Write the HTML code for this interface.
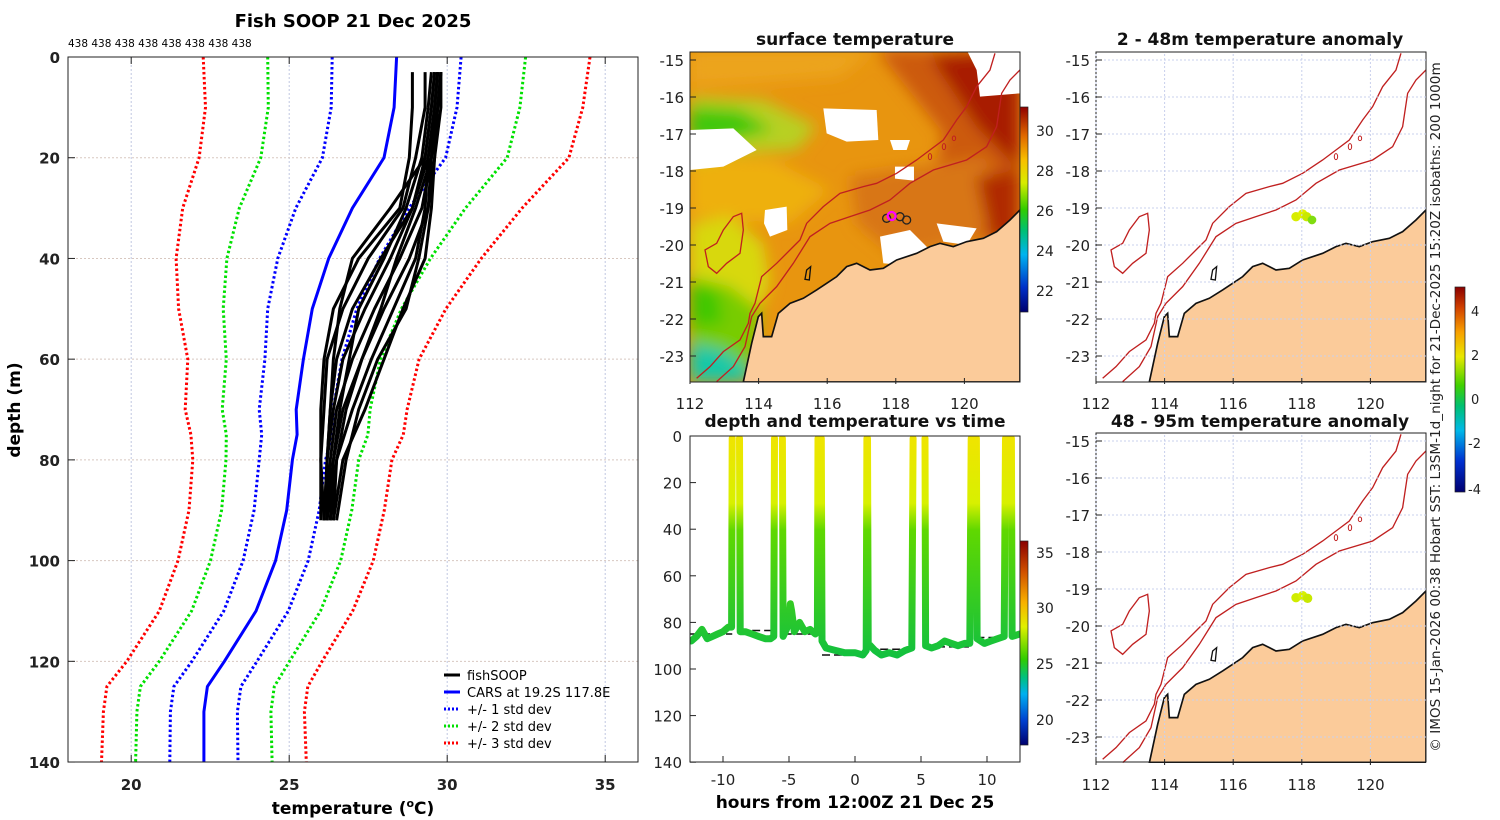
<!DOCTYPE html>
<html><head><meta charset="utf-8"><style>
html,body{margin:0;padding:0;background:#fff;}
svg{display:block;font-family:"DejaVu Sans","Liberation Sans",sans-serif;}
.tk{font-size:15px;font-weight:bold;fill:#222;}
.tkm{font-size:15px;fill:#222;}
.ttl{font-size:17px;font-weight:bold;fill:#111;}
</style></head><body>
<svg id="fig" width="1500" height="820" viewBox="0 0 1500 820" xmlns="http://www.w3.org/2000/svg">
<defs>
<filter id="blur" x="-20%" y="-20%" width="140%" height="140%"><feGaussianBlur stdDeviation="22"/></filter>
<clipPath id="mapclip"><rect x="0" y="6" width="990" height="990"/></clipPath>
<clipPath id="leftclip"><rect x="68" y="57" width="570" height="705"/></clipPath>
<clipPath id="timeclip"><rect x="690" y="436" width="330" height="326"/></clipPath>
<linearGradient id="sstbar" x1="0" y1="1" x2="0" y2="0">
<stop offset="0" stop-color="#00006e"/><stop offset="0.12" stop-color="#0030c8"/><stop offset="0.28" stop-color="#00b4f0"/><stop offset="0.4" stop-color="#00c070"/><stop offset="0.5" stop-color="#30cc00"/><stop offset="0.63" stop-color="#d8ec00"/><stop offset="0.74" stop-color="#f8c000"/><stop offset="0.86" stop-color="#e06800"/><stop offset="1" stop-color="#900000"/></linearGradient>
<linearGradient id="timebar" x1="0" y1="1" x2="0" y2="0">
<stop offset="0" stop-color="#00006e"/><stop offset="0.12" stop-color="#0040d0"/><stop offset="0.25" stop-color="#00b0f0"/><stop offset="0.33" stop-color="#00c080"/><stop offset="0.42" stop-color="#30cc00"/><stop offset="0.58" stop-color="#e0f000"/><stop offset="0.7" stop-color="#f8b000"/><stop offset="0.85" stop-color="#d05000"/><stop offset="1" stop-color="#8a0000"/></linearGradient>
<linearGradient id="anbar" x1="0" y1="1" x2="0" y2="0">
<stop offset="0" stop-color="#000070"/><stop offset="0.15" stop-color="#0030d0"/><stop offset="0.3" stop-color="#00b8e8"/><stop offset="0.42" stop-color="#00c070"/><stop offset="0.52" stop-color="#40d000"/><stop offset="0.66" stop-color="#e8e800"/><stop offset="0.78" stop-color="#f8a000"/><stop offset="0.9" stop-color="#d04000"/><stop offset="1" stop-color="#8a0000"/></linearGradient>
<linearGradient id="trackgrad" gradientUnits="userSpaceOnUse" x1="0" y1="436" x2="0" y2="660">
<stop offset="0" stop-color="#f0e400"/><stop offset="0.3" stop-color="#d8f000"/><stop offset="0.42" stop-color="#60d800"/><stop offset="1" stop-color="#10c040"/></linearGradient>
<g id="mapbase">
<path d="M20,985 L60,950 L100,905 L150,870 L175,820 L180,790 L195,760 L215,680 L260,640 L310,590 L330,570 L350,520 L400,470 L450,430 L520,410 L560,400 L620,370 L680,330 L720,300 L760,270 L800,210 L830,170 L860,110 L900,60 L915,10" fill="none" stroke="#c02020" stroke-width="4"/>
<path d="M80,995 L130,950 L165,890 L185,800 L210,760 L260,710 L310,640 L360,560 L420,520 L480,500 L540,480 L600,450 L660,400 L730,360 L830,330 L890,290 L920,230 L935,130 L960,90 L990,60" fill="none" stroke="#c02020" stroke-width="4"/>
<path d="M45,600 L80,580 L100,540 L130,500 L155,490 L160,540 L150,610 L110,640 L80,670 L55,650 Z" fill="none" stroke="#c02020" stroke-width="4"/>
<ellipse cx="720" cy="320" rx="5" ry="9" fill="none" stroke="#c02020" stroke-width="3"/>
<ellipse cx="762" cy="290" rx="5" ry="9" fill="none" stroke="#c02020" stroke-width="3"/>
<ellipse cx="792" cy="265" rx="5" ry="7" fill="none" stroke="#c02020" stroke-width="3"/>
<path d="M160,996 L185,880 L205,800 L215,790 L220,860 L245,860 L265,790 L300,760 L340,745 L380,720 L410,700 L440,680 L470,650 L500,640 L540,660 L580,655 L620,630 L680,610 L720,590 L750,580 L790,590 L830,575 L880,565 L920,545 L960,510 L990,480 L990,996 Z" fill="#fbcb9a" stroke="#111" stroke-width="5"/>
<path d="M350,660 L362,650 L358,690 L345,688 Z" fill="none" stroke="#111" stroke-width="4"/>
</g>
</defs>

<!-- ============ LEFT PANEL ============ -->
<g>
<text x="353" y="27" text-anchor="middle" style="font-size:18px;font-weight:bold">Fish SOOP 21 Dec 2025</text>
<text x="68" y="47" style="font-size:10.5px">438 438 438 438 438 438 438 438</text>
<g id="leftgrid"></g>
<g id="leftmarks" clip-path="url(#leftclip)"></g>
<rect x="68" y="57" width="570" height="705" fill="none" stroke="#222" stroke-width="1"/>
<g id="leftticks"></g>
<text x="20" y="410" transform="rotate(-90 20 410)" text-anchor="middle" style="font-size:17px;font-weight:bold">depth (m)</text>
<text x="353" y="814" text-anchor="middle" style="font-size:17px;font-weight:bold">temperature (<tspan dy="-7" style="font-size:11px">o</tspan><tspan dy="7">C)</tspan></text>
<g style="font-size:13px">
<g><line x1="444" y1="675" x2="460" y2="675" stroke="#000" stroke-width="3"/><text x="467" y="680">fishSOOP</text></g>
<g><line x1="444" y1="692" x2="460" y2="692" stroke="#0000ff" stroke-width="3"/><text x="467" y="697">CARS at 19.2S 117.8E</text></g>
<g><line x1="444" y1="709" x2="460" y2="709" stroke="#0000ff" stroke-width="3" stroke-dasharray="2,2"/><text x="467" y="714">+/- 1 std dev</text></g>
<g><line x1="444" y1="726" x2="460" y2="726" stroke="#00e000" stroke-width="3" stroke-dasharray="2,2"/><text x="467" y="731">+/- 2 std dev</text></g>
<g><line x1="444" y1="743" x2="460" y2="743" stroke="#ff0000" stroke-width="3" stroke-dasharray="2,2"/><text x="467" y="748">+/- 3 std dev</text></g>
</g>
</g>

<!-- ============ SST MAP ============ -->
<g>
<text x="855" y="45" text-anchor="middle" class="ttl">surface temperature</text>
<g transform="translate(690,50) scale(0.3333)" clip-path="url(#mapclip)">
<rect x="0" y="0" width="990" height="996" fill="#e8950f"/>
<g filter="url(#blur)">
<path d="M0,0 L550,0 L450,80 L200,100 L0,110 Z" fill="#eca41a"/>
<path d="M0,320 L250,330 L420,420 L300,520 L0,500 Z" fill="#eeb010"/>
<path d="M0,140 L220,150 L380,230 L320,300 L120,310 L0,340 Z" fill="#b8d020"/>
<path d="M0,170 L150,180 L250,240 L120,270 L0,280 Z" fill="#40c810"/>
<path d="M0,520 L120,500 L220,580 L240,700 L200,800 L0,800 Z" fill="#d8d808"/>
<path d="M0,680 L120,710 L210,780 L180,996 L0,996 Z" fill="#78cc00"/>
<path d="M0,700 L80,720 L100,820 L0,830 Z" fill="#40c800"/>
<path d="M0,880 L100,900 L180,960 L180,996 L0,996 Z" fill="#18c8a8"/>
<path d="M560,0 L990,0 L990,580 L850,570 L720,430 L760,250 Z" fill="#cc5a08"/>
<path d="M720,20 L990,0 L990,360 L860,230 Z" fill="#a81a00"/>
<path d="M480,380 L880,320 L990,470 L850,570 L620,620 L500,520 Z" fill="#d87612"/>
<path d="M860,380 L990,360 L990,560 L900,570 Z" fill="#b02a00"/>
</g>
<g fill="#ffffff">
<path d="M400,175 L560,180 L565,270 L470,275 L410,250 Z"/>
<path d="M0,240 L130,235 L200,300 L100,350 L0,360 Z"/>
<path d="M225,480 L290,470 L292,540 L240,560 L222,520 Z"/>
<path d="M570,560 L660,540 L720,600 L640,645 L580,640 Z"/>
<path d="M615,350 L672,350 L672,392 L615,386 Z"/>
<path d="M830,0 L990,0 L990,130 L870,140 L860,60 Z"/>
<path d="M740,520 L860,535 L830,585 L760,575 Z"/>
<path d="M600,270 L660,270 L650,300 L610,300 Z"/>
</g>
<use href="#mapbase"/>
<circle cx="590" cy="505" r="12" fill="none" stroke="#222" stroke-width="4"/>
<circle cx="630" cy="500" r="12" fill="none" stroke="#222" stroke-width="4"/>
<circle cx="650" cy="510" r="12" fill="none" stroke="#222" stroke-width="4"/>
<circle cx="605" cy="498" r="12" fill="none" stroke="#ff00ff" stroke-width="7"/>
</g>
<rect x="690" y="52" width="330" height="330" fill="none" stroke="#222"/>
<rect x="1020" y="107" width="8" height="205" fill="url(#sstbar)" stroke="#222" stroke-width="0.7"/>
<g class="tkm" style="font-size:14px">
<text x="1036" y="136">30</text><text x="1036" y="176">28</text><text x="1036" y="216">26</text><text x="1036" y="256">24</text><text x="1036" y="296">22</text>
</g>
</g>

<!-- ============ RIGHT MAPS ============ -->
<g>
<text x="1260" y="45" text-anchor="middle" class="ttl">2 - 48m temperature anomaly</text>
<g transform="translate(1096,50) scale(0.3333)" clip-path="url(#mapclip)">
<use href="#mapbase"/>
<g><circle cx="600" cy="500" r="14" fill="#d8ec00"/><circle cx="620" cy="492" r="14" fill="#e0f000"/><circle cx="632" cy="500" r="14" fill="#c8e800"/><circle cx="648" cy="510" r="13" fill="#80dc10"/></g>
</g>
<rect x="1096" y="52" width="330" height="330" fill="none" stroke="#222"/>
</g>
<g>
<text x="1260" y="427" text-anchor="middle" class="ttl">48 - 95m temperature anomaly</text>
<g transform="translate(1096,431) scale(0.3333)" clip-path="url(#mapclip)">
<use href="#mapbase"/>
<g><circle cx="600" cy="500" r="14" fill="#d0ec00"/><circle cx="620" cy="494" r="14" fill="#d8f000"/><circle cx="635" cy="502" r="14" fill="#c8e800"/></g>
</g>
<rect x="1096" y="433" width="330" height="329" fill="none" stroke="#222"/>
</g>
<rect x="1455" y="287" width="10" height="205" fill="url(#anbar)" stroke="#222" stroke-width="0.7"/>
<g style="font-size:13px" fill="#222">
<text x="1471" y="316">4</text><text x="1471" y="360">2</text><text x="1471" y="404">0</text><text x="1468" y="448">-2</text><text x="1468" y="494">-4</text>
</g>
<text x="1440" y="407" transform="rotate(-90 1440 407)" text-anchor="middle" style="font-size:13.6px" fill="#222">© IMOS 15-Jan-2026 00:38 Hobart SST: L3SM-1d_night for 21-Dec-2025 15:20Z isobaths: 200  1000m</text>

<!-- ============ TIME PANEL ============ -->
<g>
<text x="855" y="427" text-anchor="middle" class="ttl">depth and temperature vs time</text>
<g id="timemarks" clip-path="url(#timeclip)"></g>
<rect x="690" y="436" width="330" height="326" fill="none" stroke="#222"/>
<g id="timeticks"></g>
<text x="855" y="808" text-anchor="middle" style="font-size:17px;font-weight:bold">hours from 12:00Z 21 Dec 25</text>
<rect x="1020" y="541" width="8" height="204" fill="url(#timebar)" stroke="#222" stroke-width="0.7"/>
<g style="font-size:14px" fill="#222">
<text x="1036" y="558">35</text><text x="1036" y="613">30</text><text x="1036" y="669">25</text><text x="1036" y="725">20</text>
</g>
</g>
<g id="mapticks"></g>
</svg>
<script>
// ---- profile panel data ----
const stdDepths = [0,10,20,30,40,50,60,70,75,80,90,100,110,120,125,130,140];
const carsMean = [28.40,28.32,28.00,27.00,26.25,25.73,25.45,25.22,25.25,25.10,24.92,24.57,23.95,22.95,22.41,22.30,22.30];
const carsStd = [2.04,1.99,1.95,1.79,1.61,1.41,1.22,1.17,1.12,1.05,1.03,1.03,1.02,1.03,1.06,1.06,1.08];
const profDepths = [3,10,20,30,40,50,60,70,80,92];
const profiles = [
[28.9,28.9,28.8,28.5,27.2,26.4,26.1,26.0,26.0,26.0],
[29.3,29.3,29.0,28.6,27.5,26.7,26.2,26.1,26.0,26.1],
[29.6,29.5,29.3,28.9,27.9,27.0,26.5,26.3,26.2,26.1],
[29.7,29.6,29.4,28.9,28.2,27.4,26.7,26.4,26.2,26.2],
[29.8,29.7,29.5,29.2,28.5,27.7,27.0,26.5,26.3,26.2],
[29.8,29.7,29.6,29.4,28.8,28.0,27.3,26.7,26.4,26.3],
[29.7,29.6,29.4,29.3,29.0,28.3,27.6,27.0,26.5,26.3],
[29.8,29.8,29.6,29.5,29.3,28.6,28.0,27.4,26.7,26.4],
[29.6,29.5,29.3,28.2,27.0,26.6,26.4,26.3,26.2,26.1],
[29.5,29.4,29.2,28.7,28.0,27.2,26.9,26.6,26.4,26.2],
[29.7,29.6,29.5,29.4,29.1,28.7,27.8,27.2,26.8,26.5],
[29.8,29.7,29.5,29.0,28.4,27.9,27.3,26.8,26.5,26.4]
];
const tempTicks = [20,25,30,35];
const depthTicks = [0,20,40,60,80,100,120,140];
// ---- time panel data ----
const trackHours = [-12.4,-12.0,-11.6,-11.2,-10.8,-10.4,-10.0,-9.6,-9.35,-9.3,null,
 -8.75,-8.7,-8.3,-7.8,-7.3,-6.8,-6.4,-6.15,-6.1,null,
 -5.5,-5.45,-5.2,-5.0,-4.9,-4.8,-4.6,-4.2,-3.8,-3.4,-3.0,-2.85,-2.8,null,
 -2.55,-2.5,-2.2,-1.5,-0.8,0,0.6,0.85,0.9,0.95,1.0,1.5,2.0,2.6,3.2,3.8,4.3,4.4,null,
 5.3,5.35,5.8,6.3,6.8,7.3,7.8,8.3,8.7,8.8,null,
 9.2,9.25,9.8,10.3,10.8,11.3,11.4,null,
 11.85,11.9,12.5];
const trackDepth = [88,86,83,87,86,85,84,82,82,1,null,
 1,84,84,85,86,87,87,86,1,null,
 1,86,83,80,72,75,84,80,84,83,85,84,1,null,
 1,88,91,92,93,93,94,92,1,1,89,92,94,93,94,92,91,1,null,
 1,90,91,90,88,89,90,89,89,1,null,
 1,87,89,88,87,86,1,null,
 1,86,85];
const bottomStart = [-12.5,-8.7,-5.4,-2.5,1.0,5.3,9.2,11.9];
const bottomEnd = [-9.3,-6.1,-2.8,0.9,4.4,8.8,11.4,12.5];
const bottomDepth = [85,83.5,85,94,91.5,90.5,86.5,86];
const hourTicks = [-10,-5,0,5,10];
const timeDepthTicks = [0,20,40,60,80,100,120,140];
// ---- map ticks ----
const lonTicks = [112,114,116,118,120];
const latTicks = [-15,-16,-17,-18,-19,-20,-21,-22,-23];

const NS='http://www.w3.org/2000/svg';
function mk(tag, attrs, parent){const e=document.createElementNS(NS,tag);for(const k in attrs)e.setAttribute(k,attrs[k]);parent.appendChild(e);return e;}

const xT = t => 68 + (t-18)*31.6;
const yD = d => 57 + d*5.036;

const lg = document.getElementById('leftgrid');
tempTicks.forEach(t=>{const l=mk('line',{x1:xT(t),x2:xT(t),y1:57,y2:762,stroke:'#c0c8e0','stroke-width':1,'stroke-dasharray':'2,2'},lg);

});
depthTicks.slice(1,-1).forEach(d=>{const l=mk('line',{x1:68,x2:638,y1:yD(d),y2:yD(d),stroke:'#d8c8c0','stroke-width':1,'stroke-dasharray':'2,2'},lg);

});

const lm = document.getElementById('leftmarks');
function stdLine(k,color,name){
  [-1,1].forEach(s=>{
    const pts=stdDepths.map((d,i)=>xT(carsMean[i]+s*k*carsStd[i]).toFixed(1)+','+yD(d).toFixed(1)).join(' ');
    const p=mk('polyline',{points:pts,fill:'none',stroke:color,'stroke-width':3,'stroke-dasharray':'2.5,2.5'},lm);
    
    
  });
}
stdLine(3,'#ff0000','std3-line');
stdLine(2,'#00e000','std2-line');
stdLine(1,'#0000ff','std1-line');
{const pts=stdDepths.map((d,i)=>xT(carsMean[i]).toFixed(1)+','+yD(d).toFixed(1)).join(' ');
const p=mk('polyline',{points:pts,fill:'none',stroke:'#0000ff','stroke-width':3},lm);

}
profiles.forEach(pr=>{
  const pts=pr.map((t,i)=>xT(t).toFixed(1)+','+yD(profDepths[i]).toFixed(1)).join(' ');
  const p=mk('polyline',{points:pts,fill:'none',stroke:'#000','stroke-width':3,'stroke-linejoin':'round'},lm);
  
  
});

const lt=document.getElementById('leftticks');
tempTicks.forEach(t=>{
  mk('line',{x1:xT(t),x2:xT(t),y1:762,y2:755,stroke:'#222'},lt);
  mk('line',{x1:xT(t),x2:xT(t),y1:57,y2:64,stroke:'#222'},lt);
  const tx=mk('text',{x:xT(t),y:790,'text-anchor':'middle',class:'tk'},lt);tx.textContent=t;
  
  
});
depthTicks.forEach(d=>{
  mk('line',{x1:68,x2:75,y1:yD(d),y2:yD(d),stroke:'#222'},lt);
  const tx=mk('text',{x:60,y:yD(d)+6,'text-anchor':'end',class:'tk'},lt);tx.textContent=d;
  
  
});

// time panel
const xH = h => 855 + h*13.2;
const yT = d => 436 + d*2.33;
const tm=document.getElementById('timemarks');
bottomStart.forEach((s,i)=>{
  const l=mk('line',{x1:xH(s),x2:xH(bottomEnd[i]),y1:yT(bottomDepth[i]),y2:yT(bottomDepth[i]),stroke:'#111','stroke-width':1.5,'stroke-dasharray':'8,4'},tm);
  
  
});
let seg=[];
function flush(){ if(seg.length>1){const p=mk('polyline',{points:seg.join(' '),fill:'none',stroke:'url(#trackgrad)','stroke-width':7,'stroke-linejoin':'round','stroke-linecap':'round'},tm);

} seg=[]; }
trackHours.forEach((h,i)=>{ if(h===null||trackDepth[i]===null){flush();return;} seg.push(xH(h).toFixed(1)+','+yT(trackDepth[i]).toFixed(1)); });
flush();
const tt=document.getElementById('timeticks');
hourTicks.forEach(h=>{
  mk('line',{x1:xH(h),x2:xH(h),y1:762,y2:756,stroke:'#222'},tt);
  const tx=mk('text',{x:xH(h),y:785,'text-anchor':'middle',class:'tkm'},tt);tx.textContent=h;
  
  
});
timeDepthTicks.forEach(d=>{
  mk('line',{x1:690,x2:696,y1:yT(d),y2:yT(d),stroke:'#222'},tt);
  const tx=mk('text',{x:682,y:yT(d)+6,'text-anchor':'end',class:'tkm'},tt);tx.textContent=d;
  
  
});

// map ticks & grids
const mt=document.getElementById('mapticks');
function mapAxes(ox,oy,showGrid){
  const xL = lon => ox + (lon-112)*34.3;
  const yL = lat => oy + 8 + (-15-lat)*37;
  lonTicks.forEach(lon=>{
    if(showGrid){const g=mk('line',{x1:xL(lon),x2:xL(lon),y1:oy+2,y2:oy+332,stroke:'#c8d0ec','stroke-width':1,'stroke-dasharray':'2,2'},mt);
    
    }
    mk('line',{x1:xL(lon),x2:xL(lon),y1:oy+332,y2:oy+326,stroke:'#222'},mt);
    const tx=mk('text',{x:xL(lon),y:oy+357,'text-anchor':'middle',class:'tkm'},mt);tx.textContent=lon;
    
    
  });
  latTicks.forEach(lat=>{
    if(showGrid){const g=mk('line',{x1:ox,x2:ox+330,y1:yL(lat),y2:yL(lat),stroke:'#c8d0ec','stroke-width':1,'stroke-dasharray':'2,2'},mt);
    
    }
    mk('line',{x1:ox,x2:ox+6,y1:yL(lat),y2:yL(lat),stroke:'#222'},mt);
    const tx=mk('text',{x:ox-6,y:yL(lat)+6,'text-anchor':'end',class:'tkm'},mt);tx.textContent=lat;
    
    
  });
}
mapAxes(690,52,false);
mapAxes(1096,52,true);
mapAxes(1096,433,true);
</script>
</body></html>
